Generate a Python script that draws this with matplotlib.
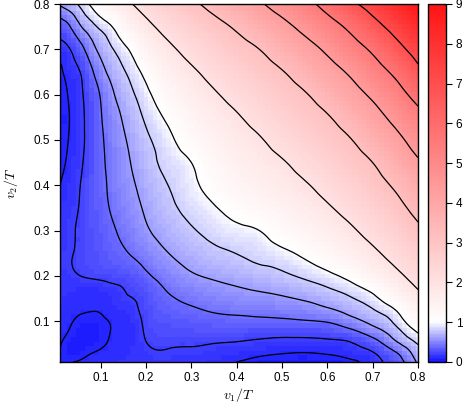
import numpy as np
import matplotlib
matplotlib.use("Agg")
import matplotlib.pyplot as plt
import matplotlib.tri as mtri
from matplotlib.colors import LinearSegmentedColormap, Normalize
from matplotlib.cm import ScalarMappable

# grid positions (v/T) at which values were read
grid = [0.01, 0.03, 0.05, 0.075, 0.10, 0.125, 0.15, 0.175, 0.20, 0.25, 0.30,
        0.35, 0.40, 0.45, 0.50, 0.55, 0.60, 0.65, 0.70, 0.75, 0.80]

# values f(v1 = grid[k], v2 = grid[0..k]); the field is symmetric in v1 <-> v2
half = [
    [0.095],
    [0.097, 0.06],
    [0.104, 0.068, 0.04],
    [0.115, 0.095, 0.06, 0.05],
    [0.125, 0.108, 0.09, 0.075, 0.085],
    [0.135, 0.12, 0.11, 0.105, 0.108, 0.132],
    [0.145, 0.135, 0.125, 0.12, 0.125, 0.14, 0.177],
    [0.155, 0.15, 0.145, 0.145, 0.155, 0.175, 0.205, 0.255],
    [0.16, 0.175, 0.195, 0.215, 0.23, 0.25, 0.27, 0.30, 0.368],
    [0.165, 0.188, 0.215, 0.256, 0.297, 0.338, 0.379, 0.428, 0.488, 0.60],
    [0.155, 0.181, 0.211, 0.267, 0.322, 0.378, 0.44, 0.505, 0.577, 0.686, 0.78],
    [0.13, 0.164, 0.198, 0.272, 0.346, 0.419, 0.489, 0.556, 0.627, 0.752, 0.87, 0.98],
    [0.10, 0.143, 0.187, 0.267, 0.354, 0.443, 0.525, 0.595, 0.669, 0.804, 0.941, 1.13, 1.36],
    [0.07, 0.12, 0.17, 0.253, 0.362, 0.458, 0.546, 0.632, 0.714, 0.865, 1.0, 1.29, 1.54, 1.76],
    [0.05, 0.105, 0.158, 0.243, 0.369, 0.478, 0.576, 0.672, 0.764, 0.939, 1.2, 1.47, 1.73, 1.95, 2.24],
    [0.04, 0.098, 0.154, 0.249, 0.387, 0.513, 0.622, 0.728, 0.832, 1.07, 1.39, 1.685, 1.94, 2.23, 2.54, 2.84],
    [0.05, 0.108, 0.162, 0.265, 0.416, 0.572, 0.69, 0.80, 0.929, 1.28, 1.63, 1.93, 2.23, 2.54, 2.84, 3.14, 3.57],
    [0.08, 0.134, 0.183, 0.333, 0.521, 0.668, 0.78, 0.912, 1.1, 1.55, 1.9, 2.23, 2.56, 2.86, 3.16, 3.59, 4.04, 4.52],
    [0.15, 0.19, 0.30, 0.488, 0.658, 0.788, 0.924, 1.13, 1.41, 1.87, 2.24, 2.58, 2.9, 3.2, 3.64, 4.08, 4.55, 5.13, 5.76],
    [0.29, 0.38, 0.543, 0.705, 0.847, 1.0, 1.27, 1.56, 1.82, 2.26, 2.63, 2.96, 3.31, 3.74, 4.16, 4.64, 5.18, 5.81, 6.59, 7.39],
    [0.63, 0.72, 0.81, 1.01, 1.27, 1.51, 1.79, 2.05, 2.28, 2.7, 3.06, 3.45, 3.88, 4.3, 4.78, 5.3, 5.96, 6.74, 7.45, 8.2, 9.0],
]

contour_levels = [0.1, 0.2, 0.4, 0.6, 0.8, 1.0, 2.0, 3.2, 4.4, 5.6, 7.0]
cbar_ticks = [0, 1, 2, 3, 4, 5, 6, 7, 8, 9]
axis_ticks = [0.1, 0.2, 0.3, 0.4, 0.5, 0.6, 0.7, 0.8]

n = len(grid)
Z = np.empty((n, n))
for i in range(n):
    for j in range(n):
        Z[j, i] = half[i][j] if j <= i else half[j][i]

X, Y = np.meshgrid(grid, grid)
triangles = []
for j in range(n - 1):
    for i in range(n - 1):
        a = j * n + i
        triangles.append([a, a + 1, a + n + 1])
        triangles.append([a, a + n + 1, a + n])
tri = mtri.Triangulation(X.ravel(), Y.ravel(), np.array(triangles))
interp = mtri.CubicTriInterpolator(tri, Z.ravel(), kind="min_E")
refiner = mtri.UniformTriRefiner(tri)
tri_f, z_f = refiner.refine_field(Z.ravel(), triinterpolator=interp, subdiv=4)

# raster of 80 x 80 cells (as in the original image) evaluated by the interpolator
cells = np.clip(np.linspace(0.01, 0.80, 80), 0.01, 0.7999)
CX, CY = np.meshgrid(cells, cells)
CZ = interp(CX, CY)

cmap = LinearSegmentedColormap.from_list(
    "bwr9", [(0.0, "#1414ff"), (1.0 / 9.0, "#ffffff"), (1.0, "#ff1414")], N=256)
norm = Normalize(vmin=0, vmax=9)

plt.rcParams["font.family"] = ["Liberation Sans", "DejaVu Sans"]
plt.rcParams["mathtext.fontset"] = "cm"

fig = plt.figure(figsize=(4.67, 4.04), dpi=100)
ax = fig.add_axes([60 / 467, 42 / 404, 358 / 467, 358 / 404])
ax.pcolormesh(cells, cells, CZ, cmap=cmap, norm=norm, shading="nearest", rasterized=True)
ax.tricontour(tri_f, z_f, levels=contour_levels, colors="black", linewidths=0.9)
ax.set_xlim(0.01, 0.8)
ax.set_ylim(0.01, 0.8)
ax.set_xticks(axis_ticks)
ax.set_yticks(axis_ticks)
ax.set_xticklabels([f"{t:.1f}" for t in axis_ticks])
ax.set_yticklabels([f"{t:.1f}" for t in axis_ticks])
ax.tick_params(direction="out", length=4, width=0.8, labelsize=8.5, pad=3)
for s in ax.spines.values():
    s.set_linewidth(1.0)
ax.set_xlabel(r"$v_1/T$", fontsize=10, labelpad=2)
ax.set_ylabel(r"$v_2/T$", fontsize=10, labelpad=10)

cax = fig.add_axes([428 / 467, 42 / 404, 18 / 467, 358 / 404])
sm = ScalarMappable(norm=norm, cmap=cmap)
cb = fig.colorbar(sm, cax=cax, ticks=cbar_ticks)
cb.ax.tick_params(direction="out", length=4, width=0.8, labelsize=8.5, pad=3)
cb.outline.set_linewidth(1.0)

fig.savefig("out.png", dpi=100)
